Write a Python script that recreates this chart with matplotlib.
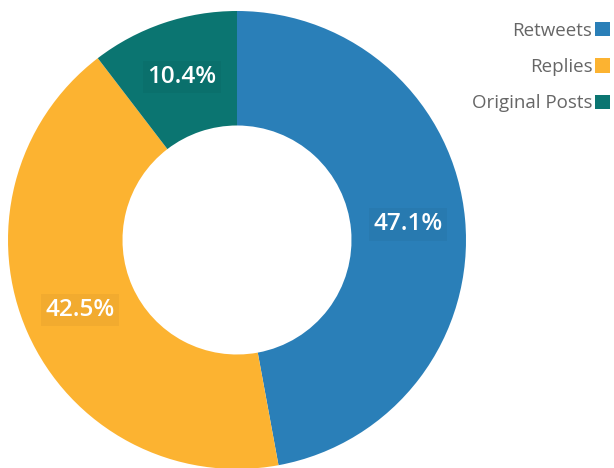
import matplotlib.pyplot as plt
from matplotlib.patches import Patch

# --- データ ---
labels = ['Retweets', 'Replies', 'Original Posts']
shares = [47.1, 42.5, 10.4]
colors = ['#2a7fb8', '#fcb331', '#0b7571']

plt.rcParams['font.family'] = ['Open Sans', 'DejaVu Sans']

W, H = 614, 468
fig = plt.figure(figsize=(W / 100, H / 100), dpi=100)

# ドーナツの中心 (237, 240) px、半径 229 px
cx, cy, r = 237, 240, 229
ax = fig.add_axes([(cx - r) / W, (H - cy - r) / H, 2 * r / W, 2 * r / H])

wedges, texts, autotexts = ax.pie(
    shares, colors=colors, startangle=90, counterclock=False, radius=1,
    wedgeprops=dict(width=0.5, linewidth=0),
    autopct='%1.1f%%', pctdistance=0.75,
    textprops=dict(color='white', fontsize=17.5, fontweight='semibold'))

# pie() が軸範囲を変えるので後で設定
ax.set_xlim(-1, 1)
ax.set_ylim(-1, 1)
ax.set_aspect('equal')
ax.axis('off')

for t in autotexts:
    t.set_bbox(dict(facecolor='black', alpha=0.04, edgecolor='none', pad=3))

# --- 凡例 ---
handles = [Patch(facecolor=c, edgecolor='none') for c in colors]
leg = fig.legend(handles, labels, loc='upper right', bbox_to_anchor=(1.0, 0.962),
                 frameon=False, markerfirst=False, fontsize=13.5,
                 handlelength=0.8, handleheight=0.8, handletextpad=0.15,
                 labelspacing=0.98, borderaxespad=0.0, borderpad=0.2)
for t in leg.get_texts():
    t.set_color('#666666')

fig.savefig('out.png', dpi=100)
